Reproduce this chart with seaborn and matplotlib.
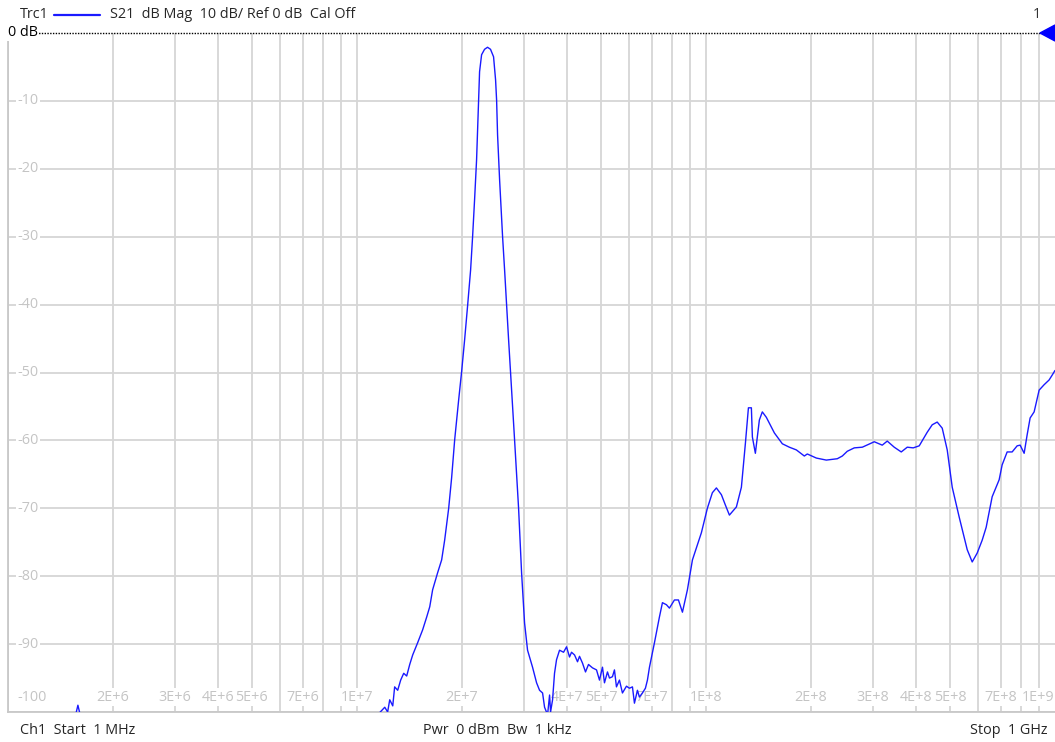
import numpy as np
import pandas as pd
import matplotlib
matplotlib.use('Agg')
import matplotlib.pyplot as plt
import seaborn as sns
from matplotlib.patches import Polygon

sns.set_style("white")
plt.rcParams['font.family'] = ['Open Sans', 'DejaVu Sans']

# S21 trace (frequency in MHz, magnitude in dB)
freq_mhz = [1.0, 1.505, 1.586, 1.672, 11.24, 11.61, 12.01, 12.24, 12.41, 12.66,
            12.82, 13.08, 13.34, 13.61, 13.88, 14.16, 14.44, 14.92, 15.42, 15.84,
            16.16, 16.47, 17.02, 17.48, 17.83, 18.31, 18.67, 19.05, 19.56, 19.94,
            20.34, 20.75, 21.16, 21.44, 21.72, 22.01, 22.16, 22.30, 22.45, 22.75,
            23.20, 23.66, 24.13, 24.62, 24.95, 25.12, 25.28, 25.62, 26.13, 26.48,
            26.83, 27.19, 27.54, 27.91, 28.28, 28.66, 29.04, 29.62, 30.21, 30.81,
            31.84, 32.70, 33.35, 34.02, 34.47, 35.16, 35.63, 35.86, 36.34, 36.81,
            37.30, 38.05, 39.07, 39.85, 40.64, 41.18, 42.01, 42.84, 43.41, 44.27,
            45.16, 46.06, 47.29, 48.56, 49.52, 50.51, 51.18, 52.20, 52.89, 53.95,
            54.66, 55.39, 56.49, 57.62, 59.17, 60.35, 61.55, 62.37, 63.61, 64.45,
            65.74, 67.05, 67.95, 68.87, 71.17, 73.55, 75.02, 77.02, 78.56, 81.20,
            83.37, 85.60, 88.46, 91.44, 97.0, 100.9, 104.3, 107.1, 110.7, 113.6,
            116.7, 122.2, 126.3, 129.7, 132.3, 134.9, 135.8, 138.5, 142.2, 145.0,
            148.9, 157.0, 165.5, 173.3, 181.5, 191.3, 195.1, 207.1, 221.2, 237.8,
            245.8, 254.0, 266.0, 280.5, 303.5, 319.9, 330.6, 346.2, 362.6, 377.3,
            392.5, 408.3, 430.4, 444.8, 459.7, 475.2, 491.1, 507.6, 531.5, 560.4,
            579.1, 598.4, 618.5, 635.0, 660.6, 691.8, 705.6, 729.3, 753.7, 779.0,
            794.6, 815.8, 832.0, 848.6, 871.4, 900.6, 930.7, 961.9, 981.1, 994.0,
            1000.0]
s21_db = [-104, -104, -99.0, -104, -104, -100.1, -99.3, -100.0, -98.2, -99.1,
          -96.3, -96.8, -95.3, -94.3, -94.7, -93.0, -91.6, -89.8, -87.9, -86.0,
          -84.5, -82.0, -79.5, -77.6, -74.7, -70.0, -65.5, -59.9, -54.0, -49.9,
          -45.2, -40.1, -34.9, -30.0, -24.6, -18.7, -14.3, -9.9, -5.7, -3.2,
          -2.4, -2.1, -2.4, -3.5, -6.9, -9.9, -15.0, -21.6, -30.0, -34.9,
          -40.1, -45.2, -49.9, -54.8, -59.9, -65.1, -70.0, -79.5, -86.9, -90.9,
          -93.4, -95.7, -96.8, -97.2, -99.3, -100.4, -97.5, -100.0, -98.2, -94.3,
          -92.3, -90.9, -91.2, -90.4, -91.9, -91.2, -91.6, -92.6, -91.8, -92.8,
          -94.1, -93.0, -93.5, -93.8, -95.3, -93.4, -95.7, -94.1, -95.0, -94.8,
          -93.8, -96.3, -95.3, -97.2, -96.2, -96.5, -96.3, -98.7, -96.8, -97.8,
          -97.2, -96.5, -95.3, -93.4, -89.8, -86.0, -83.9, -84.2, -84.7, -83.5,
          -83.5, -85.3, -82.0, -77.6, -73.6, -70.0, -67.7, -67.0, -68.0, -69.5,
          -71.0, -69.8, -66.9, -60.4, -55.2, -55.2, -59.5, -61.9, -57.0, -55.8,
          -56.6, -58.9, -60.5, -61.0, -61.4, -62.3, -62.0, -62.6, -62.9, -62.7,
          -62.3, -61.6, -61.1, -61.0, -60.2, -60.7, -60.1, -61.0, -61.7, -61.0,
          -61.1, -60.8, -58.8, -57.7, -57.3, -58.2, -61.4, -66.9, -71.3, -76.1,
          -77.9, -76.6, -74.7, -72.8, -68.3, -65.8, -63.6, -61.7, -61.7, -60.8,
          -60.7, -61.9, -59.2, -56.7, -55.8, -52.6, -51.8, -51.1, -50.4, -49.9,
          -49.7]

# grid / label settings
y_ticks = [-10, -20, -30, -40, -50, -60, -70, -80, -90, -100]
x_labels = {2e6: '2E+6', 3e6: '3E+6', 4e6: '4E+6', 5e6: '5E+6', 7e6: '7E+6',
            1e7: '1E+7', 2e7: '2E+7', 4e7: '4E+7', 5e7: '5E+7', 7e7: '7E+7',
            1e8: '1E+8', 2e8: '2E+8', 3e8: '3E+8', 4e8: '4E+8', 5e8: '5E+8',
            7e8: '7E+8', 1e9: '1E+9'}

df = pd.DataFrame({'freq': np.array(freq_mhz) * 1e6, 'db': s21_db})

W, H = 1055, 742
fs = 10.4
fig = plt.figure(figsize=(W / 100, H / 100), dpi=100)
ax = fig.add_axes([8 / W, 30 / H, 1 - 8 / W, 679 / H])

grid_c = '#d6d6d6'
label_c = '#c4c4c4'

# vertical grid lines at 1..9 x each decade
for dec in [1e6, 1e7, 1e8]:
    for m in range(1, 10):
        ax.axvline(dec * m, color=grid_c, lw=1.3, zorder=1)
for v in y_ticks:
    ax.axhline(v, color=grid_c, lw=1.3, zorder=1)

sns.lineplot(data=df, x='freq', y='db', ax=ax, color='#1a1aff', lw=1.0,
             zorder=5, estimator=None, sort=False)

ax.set_xscale('log')
ax.set_xlim(1e6, 1e9)
ax.set_ylim(-100, 0)
ax.set_xticks([])
ax.set_yticks([])
ax.minorticks_off()
ax.set_xlabel('')
ax.set_ylabel('')

for s in ['top', 'right']:
    ax.spines[s].set_visible(False)
for s in ['left', 'bottom']:
    ax.spines[s].set_color('#c8c8c8')
    ax.spines[s].set_linewidth(1.3)

# reference line at 0 dB
ax.axhline(0, color='black', lw=1.0, ls=(0, (1, 1)), zorder=6, clip_on=False)

bb = dict(facecolor='white', edgecolor='none', pad=1.0)
for v in y_ticks:
    yy = v if v != -100 else -97.8
    ax.text(0.009, yy, str(v), transform=ax.get_yaxis_transform(),
            color=label_c, fontsize=fs, ha='left', va='center', bbox=bb, zorder=3)

for f, lab in x_labels.items():
    if f == 1e9:
        # last label sits flush against the right edge
        ax.text(0.999, -97.8, lab, transform=ax.get_yaxis_transform(),
                color=label_c, fontsize=fs, ha='right', va='center',
                bbox=bb, zorder=3)
        continue
    ax.text(f, -97.8, lab, color=label_c, fontsize=fs, ha='center', va='center',
            bbox=bb, zorder=3)

ax.text(0.0, 0, '0 dB', transform=ax.get_yaxis_transform(), fontsize=fs,
        ha='left', va='center', color='black',
        bbox=dict(facecolor='white', edgecolor='none', pad=0.5), zorder=7,
        clip_on=False)

# header line
fig.text(20 / W, 1 - 15 / H, 'Trc1', fontsize=fs, va='center', ha='left')
fig.add_artist(plt.Line2D([54 / W, 100 / W], [1 - 15 / H, 1 - 15 / H],
                          color='#1a1aff', lw=1.6, transform=fig.transFigure))
fig.text(110 / W, 1 - 15 / H, 'S21  dB Mag  10 dB/ Ref 0 dB  Cal Off',
         fontsize=fs, va='center', ha='left')
fig.text(1041 / W, 1 - 15 / H, '1', fontsize=fs, va='center', ha='right',
         color='#333333')

# reference marker triangle
tri = Polygon([[1040 / W, 1 - 33 / H], [1.0, 1 - 25 / H], [1.0, 1 - 41 / H]],
              closed=True, transform=fig.transFigure, color='#0000ff', zorder=10)
fig.add_artist(tri)

# footer
fig.text(20 / W, 1 - 731 / H, 'Ch1  Start  1 MHz', fontsize=fs, va='center', ha='left')
fig.text(497 / W, 1 - 731 / H, 'Pwr  0 dBm  Bw  1 kHz', fontsize=fs, va='center',
         ha='center')
fig.text(1047 / W, 1 - 731 / H, 'Stop  1 GHz', fontsize=fs, va='center', ha='right')

fig.savefig('out.png', dpi=100)
plt.close(fig)
